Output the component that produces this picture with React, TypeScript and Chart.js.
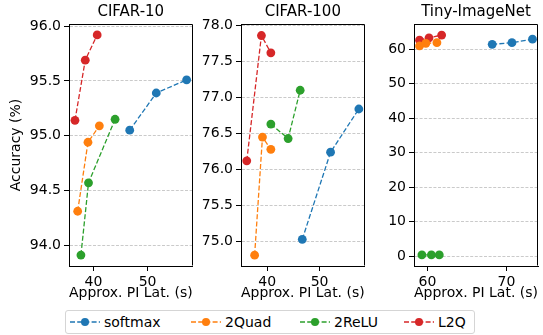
import React, { useEffect, useRef } from 'react';
import { Chart, registerables } from 'chart.js';

Chart.register(...registerables);

const SERIES_LABELS = ['softmax', '2Quad', '2ReLU', 'L2Q'];
const SERIES_COLORS = ['#1f77b4', '#ff7f0e', '#2ca02c', '#d62728'];
const X_AXIS_TITLE = 'Approx. PI Lat. (s)';
const Y_AXIS_TITLE = 'Accuracy (%)';

// CIFAR-10
const c10SoftmaxLat = [46.7, 51.6, 57.2];
const c10SoftmaxAcc = [95.05, 95.39, 95.51];
const c10QuadLat = [37.1, 39.0, 41.1];
const c10QuadAcc = [94.31, 94.94, 95.09];
const c10ReluLat = [37.7, 39.1, 44.0];
const c10ReluAcc = [93.91, 94.57, 95.15];
const c10L2qLat = [36.6, 38.5, 40.7];
const c10L2qAcc = [95.14, 95.69, 95.92];
const c10XTicks = [40, 50];
const c10YTicks = [94.0, 94.5, 95.0, 95.5, 96.0];

// CIFAR-100
const c100SoftmaxLat = [46.7, 52.1, 57.5];
const c100SoftmaxAcc = [75.03, 76.24, 76.84];
const c100QuadLat = [37.6, 39.1, 40.7];
const c100QuadAcc = [74.81, 76.45, 76.28];
const c100ReluLat = [40.7, 44.0, 46.3];
const c100ReluAcc = [76.63, 76.43, 77.1];
const c100L2qLat = [36.1, 38.9, 40.7];
const c100L2qAcc = [76.12, 77.86, 77.62];
const c100XTicks = [40, 50];
const c100YTicks = [75.0, 75.5, 76.0, 76.5, 77.0, 77.5, 78.0];

// Tiny-ImageNet
const tinySoftmaxLat = [68.2, 70.7, 73.3];
const tinySoftmaxAcc = [61.4, 61.9, 62.9];
const tinyQuadLat = [59.0, 59.8, 61.2];
const tinyQuadAcc = [60.95, 61.7, 61.9];
const tinyReluLat = [59.3, 60.5, 61.5];
const tinyReluAcc = [0.4, 0.4, 0.4];
const tinyL2qLat = [59.0, 60.2, 61.8];
const tinyL2qAcc = [62.6, 63.3, 64.1];
const tinyXTicks = [60, 70];
const tinyYTicks = [0, 10, 20, 30, 40, 50, 60];

const FONT = "'DejaVu Sans', 'Liberation Sans', sans-serif";

type Panel = {
  title: string;
  lats: number[][];
  accs: number[][];
  xTicks: number[];
  yTicks: number[];
  xMin: number; xMax: number; yMin: number; yMax: number;
  decimals: number;
  showYTitle: boolean;
  left: number; width: number; yAxisWidth: number; padRight: number;
};

const PANELS: Panel[] = [
  {
    title: 'CIFAR-10',
    lats: [c10SoftmaxLat, c10QuadLat, c10ReluLat, c10L2qLat],
    accs: [c10SoftmaxAcc, c10QuadAcc, c10ReluAcc, c10L2qAcc],
    xTicks: c10XTicks, yTicks: c10YTicks,
    xMin: 35.5, xMax: 58.3, yMin: 93.81, yMax: 96.02,
    decimals: 1, showYTitle: true,
    left: 0, width: 197, yAxisWidth: 69, padRight: 4,
  },
  {
    title: 'CIFAR-100',
    lats: [c100SoftmaxLat, c100QuadLat, c100ReluLat, c100L2qLat],
    accs: [c100SoftmaxAcc, c100QuadAcc, c100ReluAcc, c100L2qAcc],
    xTicks: c100XTicks, yTicks: c100YTicks,
    xMin: 35.0, xMax: 58.6, yMin: 74.66, yMax: 78.02,
    decimals: 1, showYTitle: false,
    left: 200, width: 169, yAxisWidth: 41, padRight: 4,
  },
  {
    title: 'Tiny-ImageNet',
    lats: [tinySoftmaxLat, tinyQuadLat, tinyReluLat, tinyL2qLat],
    accs: [tinySoftmaxAcc, tinyQuadAcc, tinyReluAcc, tinyL2qAcc],
    xTicks: tinyXTicks, yTicks: tinyYTicks,
    xMin: 58.3, xMax: 74.0, yMin: -2.8, yMax: 67.3,
    decimals: 0, showYTitle: false,
    left: 380, width: 163, yAxisWidth: 34, padRight: 5,
  },
];

const CANVAS_H = 305;
const PLOT_TOP = 24;
const PLOT_BOTTOM = 266;

const spinePlugin = {
  id: 'spines',
  afterDraw(chart: any) {
    const { ctx, chartArea } = chart;
    ctx.save();
    ctx.strokeStyle = '#000';
    ctx.lineWidth = 1;
    ctx.beginPath();
    const l = Math.round(chartArea.left) + 0.5;
    const r = Math.round(chartArea.right) - 0.5;
    const t = Math.round(chartArea.top) + 0.5;
    const b = Math.round(chartArea.bottom) - 0.5;
    ctx.moveTo(l, t);
    ctx.lineTo(r, t);
    ctx.lineTo(r, b);
    ctx.stroke();
    // panel title centred over the plot area
    const title = chart.options.plugins.panelTitle?.text;
    if (title) {
      ctx.fillStyle = '#000';
      ctx.font = `15px ${FONT}`;
      ctx.textAlign = 'center';
      ctx.textBaseline = 'middle';
      ctx.fillText(title, (chartArea.left + chartArea.right) / 2, 12);
    }
    ctx.restore();
  },
};

function PanelChart({ panel }: { panel: Panel }) {
  const ref = useRef<HTMLCanvasElement | null>(null);
  useEffect(() => {
    if (!ref.current) return;
    const datasets = SERIES_LABELS.map((label, i) => ({
      label,
      data: panel.lats[i].map((x, j) => ({ x, y: panel.accs[i][j] })),
      borderColor: SERIES_COLORS[i],
      backgroundColor: SERIES_COLORS[i],
      pointBackgroundColor: SERIES_COLORS[i],
      pointBorderColor: SERIES_COLORS[i],
      borderWidth: 1.3,
      borderDash: [5, 2.2],
      pointRadius: 4.4,
      pointBorderWidth: 0,
      tension: 0,
      fill: false,
    }));
    const chart = new Chart(ref.current, {
      type: 'line',
      data: { datasets },
      plugins: [spinePlugin],
      options: {
        animation: false,
        responsive: false,
        events: [],
        layout: { padding: { top: PLOT_TOP, right: panel.padRight, bottom: 0, left: 0 } },
        plugins: {
          legend: { display: false },
          tooltip: { enabled: false },
          title: { display: false },
          panelTitle: { text: panel.title },
        },
        scales: {
          x: {
            type: 'linear',
            min: panel.xMin,
            max: panel.xMax,
            afterBuildTicks: (s: any) => { s.ticks = panel.xTicks.map((v) => ({ value: v })); },
            afterFit: (s: any) => { s.height = CANVAS_H - PLOT_BOTTOM; },
            ticks: {
              color: '#000',
              font: { family: FONT, size: 14 },
              padding: 3,
              maxRotation: 0,
              autoSkip: false,
              callback: (v: any) => String(v),
            },
            grid: { display: true, drawOnChartArea: false, drawTicks: true, tickLength: 5, tickColor: '#000', tickWidth: 1 },
            border: { display: true, color: '#000', width: 1 },
            title: {
              display: true,
              text: X_AXIS_TITLE,
              color: '#000',
              font: { family: FONT, size: 14 },
              padding: { top: 0, bottom: 3 },
            },
          },
          y: {
            type: 'linear',
            min: panel.yMin,
            max: panel.yMax,
            afterBuildTicks: (s: any) => { s.ticks = panel.yTicks.map((v) => ({ value: v })); },
            afterFit: (s: any) => { s.width = panel.yAxisWidth; },
            ticks: {
              color: '#000',
              font: { family: FONT, size: 14 },
              padding: 3,
              autoSkip: false,
              callback: (v: any) => Number(v).toFixed(panel.decimals),
            },
            grid: {
              display: true,
              drawOnChartArea: true,
              drawTicks: true,
              tickLength: 5,
              color: 'rgba(176,176,176,0.85)',
              lineWidth: 0.8,
              tickColor: '#000',
              tickWidth: 1,
              tickBorderDash: [],
            },
            border: { display: true, color: '#000', width: 1, dash: [3, 1.6] },
            title: {
              display: panel.showYTitle,
              text: Y_AXIS_TITLE,
              color: '#000',
              font: { family: FONT, size: 14 },
              padding: { top: 8, bottom: 0 },
            },
          },
        },
      } as any,
    });
    return () => chart.destroy();
  }, [panel]);
  return (
    <canvas
      ref={ref}
      width={panel.width}
      height={CANVAS_H}
      style={{ position: 'absolute', left: panel.left, top: 0, width: panel.width, height: CANVAS_H }}
    />
  );
}

const LEGEND_LEFTS = [70, 191, 300, 404];

export default function App() {
  return (
    <div style={{ position: 'fixed', left: 0, top: 0, width: 543, height: 335, background: '#fff', overflow: 'hidden' }}>
      {PANELS.map((p) => (
        <PanelChart key={p.title} panel={p} />
      ))}
      <div
        style={{
          position: 'absolute', left: 65, top: 310, width: 410, height: 24,
          border: '1px solid #d5d5d5', borderRadius: 3, boxSizing: 'border-box', background: '#fff',
        }}
      />
      {SERIES_LABELS.map((label, i) => (
        <div
          key={label}
          style={{
            position: 'absolute', left: LEGEND_LEFTS[i], top: 310, height: 24,
            display: 'flex', alignItems: 'center', fontFamily: FONT, fontSize: 14, color: '#000', whiteSpace: 'nowrap',
          }}
        >
          <svg width={30} height={10} style={{ display: 'block' }}>
            <line x1={0} y1={5} x2={30} y2={5} stroke={SERIES_COLORS[i]} strokeWidth={1.3} strokeDasharray="5 2.2" />
            <circle cx={15} cy={5} r={4} fill={SERIES_COLORS[i]} />
          </svg>
          <span style={{ marginLeft: 4 }}>{label}</span>
        </div>
      ))}
    </div>
  );
}
